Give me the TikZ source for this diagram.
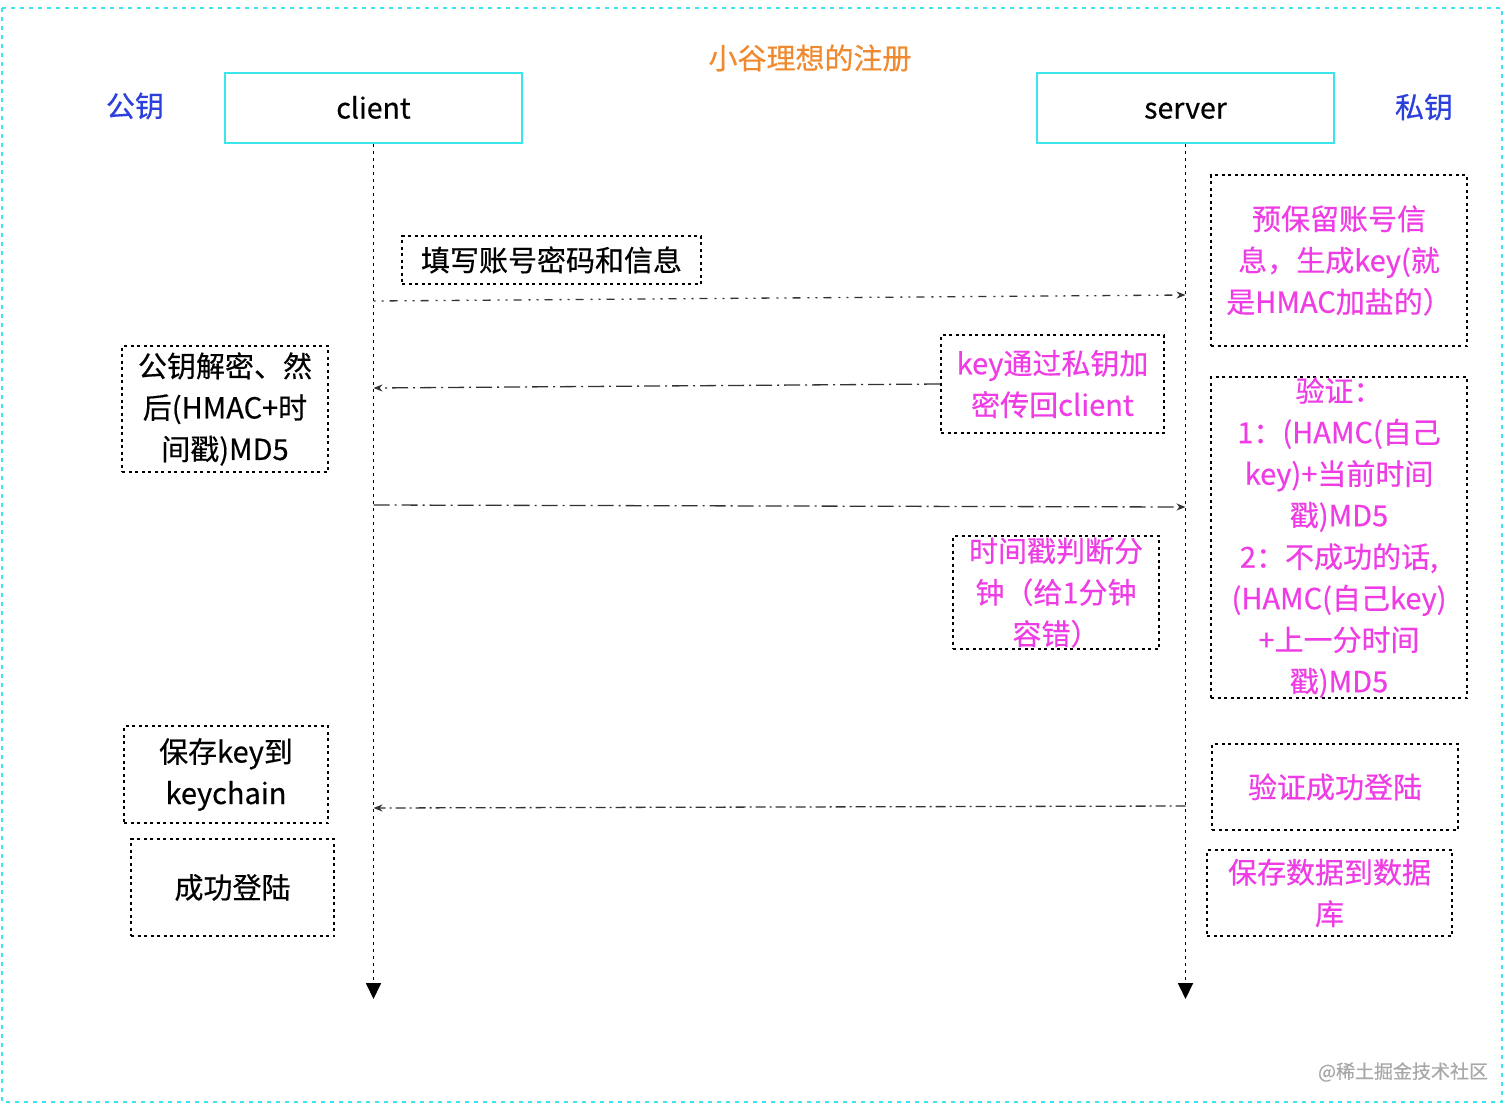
\documentclass[tikz,border=0pt]{standalone}
\usepackage{fontspec}
\setmainfont{Noto Sans CJK SC}[FakeBold=0.45]
\usetikzlibrary{arrows.meta}
\definecolor{cyanb}{HTML}{3CE4EE}
\definecolor{blueT}{HTML}{2C40DC}
\definecolor{orangeT}{HTML}{F08A30}
\definecolor{mag}{HTML}{EE3DE4}
\definecolor{wm}{HTML}{A8A8A8}
\definecolor{arr}{HTML}{333333}
\tikzset{
  actor/.style={draw=cyanb,line width=2pt,minimum width=297pt,minimum height=70pt,inner sep=0pt,text height=24pt,text depth=3pt,font=\fontsize{28.5}{34}\selectfont},
  notebox/.style={draw=black,line width=1.6pt,dash pattern=on 3pt off 3.5pt,inner sep=0pt,align=center,font=\fontsize{29}{41.5}\selectfont},
  magtext/.style={text=mag},
  lifeline/.style={draw=black,line width=1.8pt,dash pattern=on 3pt off 4pt,-{Triangle[length=16pt,width=15pt]}},
  msg/.style={draw=arr,line width=1.3pt,-{Stealth[length=9pt,width=7pt]}},
  side/.style={font=\fontsize{29}{34}\selectfont,text=blueT}
}
\begin{document}
\begin{tikzpicture}[x=1pt,y=-1pt]
\useasboundingbox (0,0) rectangle (1512,1111);
\draw[cyanb,line width=2pt,dash pattern=on 4pt off 5pt] (2,8) rectangle (1502,1102);

\node[font=\fontsize{29}{34}\selectfont,text=orangeT] (title) at (810,58) {小谷理想的注册};
\node[side] (pub) at (135,106) {公钥};
\node[side] (priv) at (1424,107) {私钥};

\node[actor] (client) at (373.5,108) {client};
\node[actor] (server) at (1185.5,108) {server};

\coordinate (cend) at (373.5,999);
\coordinate (send) at (1185.5,999);
\draw[lifeline] (client.south) -- (cend);
\draw[lifeline] (server.south) -- (send);

% notes
\node[notebox,minimum width=299pt,minimum height=48pt] (n1) at (551.5,260) {填写账号密码和信息};
\node[notebox,magtext,minimum width=256pt,minimum height=171pt] (n2) at (1339,260.5) {预保留账号信\\息，生成key(就\\是HMAC加盐的）};
\node[notebox,magtext,minimum width=223pt,minimum height=98pt] (n3) at (1052.5,384) {key通过私钥加\\密传回client};
\node[notebox,minimum width=206pt,minimum height=126pt] (n4) at (225,409) {公钥解密、然\\后(HMAC+时\\间戳)MD5};
\node[notebox,magtext,minimum width=256pt,minimum height=321pt] (n5) at (1339,537.5) {验证：\\1：(HAMC(自己\\key)+当前时间\\戳)MD5\\2：不成功的话,\\(HAMC(自己key)\\+上一分时间\\戳)MD5};
\node[notebox,magtext,minimum width=206pt,minimum height=113pt] (n6) at (1056,592.5) {时间戳判断分\\钟（给1分钟\\容错）};
\node[notebox,minimum width=204pt,minimum height=97pt] (n7) at (226,774.5) {保存key到\\keychain};
\node[notebox,minimum width=203pt,minimum height=97pt] (n8) at (232.5,887.5) {成功登陆};
\node[notebox,magtext,minimum width=246pt,minimum height=86pt] (n9) at (1335,787) {验证成功登陆};
\node[notebox,magtext,minimum width=245pt,minimum height=86pt] (n10) at (1329.5,893) {保存数据到数据\\库};

% messages
\coordinate (c1) at (373.5,301);
\coordinate (s1) at (1185.5,295);
\draw[msg,dash pattern=on 2pt off 6pt on 2pt off 6pt on 8pt off 7pt] (c1) -- (s1);
\coordinate (c2) at (373.5,388);
\draw[msg,dash pattern=on 16pt off 5pt on 2pt off 5pt] (n3.west |- 0,384) -- (c2);
\coordinate (c3) at (373.5,505);
\coordinate (s3) at (1185.5,507);
\draw[msg,dash pattern=on 16pt off 5pt on 2pt off 5pt] (c3) -- (s3);
\coordinate (s4) at (1185.5,806);
\coordinate (c4) at (373.5,808);
\draw[msg,dash pattern=on 10pt off 4pt on 2pt off 4pt] (s4) -- (c4);

\node[font=\fontsize{19}{22}\selectfont,text=wm] (wmk) at (1403,1072) {@稀土掘金技术社区};
\end{tikzpicture}
\end{document}
